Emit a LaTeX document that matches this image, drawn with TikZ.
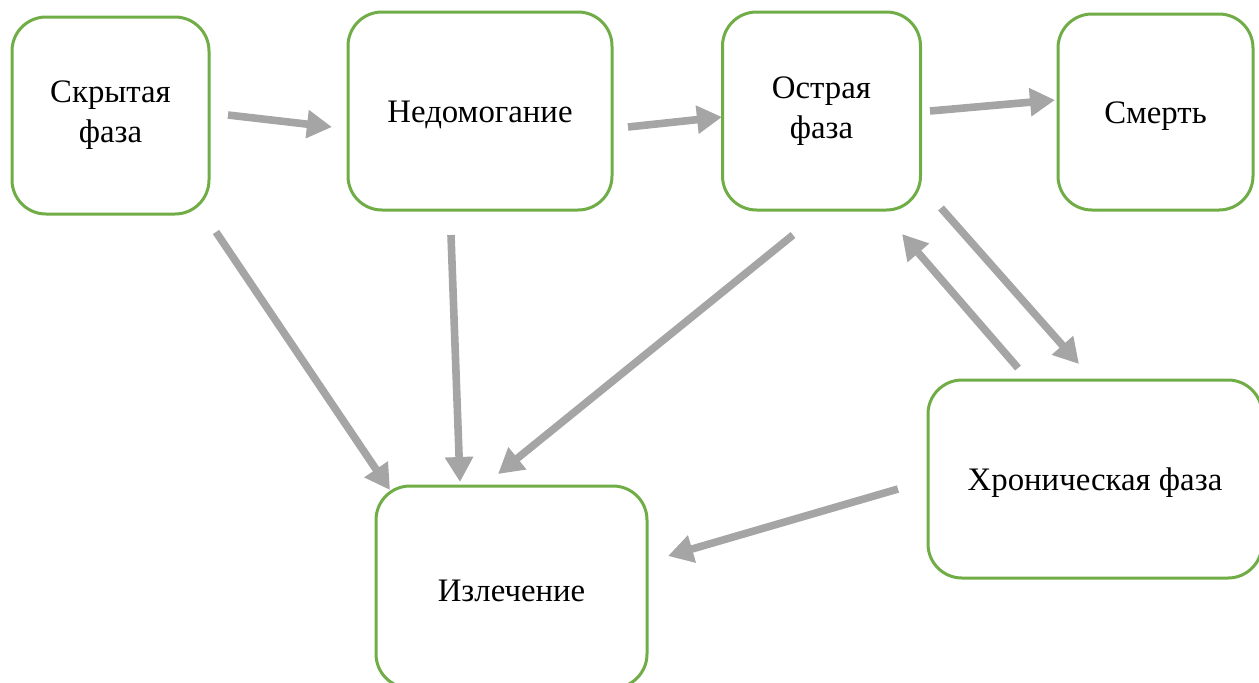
\documentclass[tikz,border=0pt]{standalone}
\usepackage{fontspec}
\setmainfont{Liberation Serif}
\usepackage{tikz}
\usetikzlibrary{arrows.meta}
\definecolor{stagegreen}{HTML}{70AD47}
\definecolor{flowgray}{HTML}{A5A5A5}

\tikzset{
  stage/.style={draw=stagegreen, line width=1.5pt, rounded corners=17pt, fill=white,
    align=center, font=\fontsize{16.4}{20}\selectfont, inner sep=0pt,
    execute at begin node={\rule{0pt}{15pt}}},
  flow/.style={draw=flowgray, line width=3.8pt, -{Triangle[length=12.5pt,width=13.5pt]}}
}

\begin{document}
\begin{tikzpicture}[x=0.5pt, y=-0.5pt]
                \useasboundingbox (0,0) rectangle (1259,682);

                % Stages, top row
                \node[stage, minimum width=98.5pt, minimum height=98.5pt] (latent) at (110.5,115.5) {Скрытая\\фаза};
                \node[stage, minimum width=132pt, minimum height=99pt] (malaise) at (480,111) {Недомогание};
                \node[stage, minimum width=99pt, minimum height=99pt] (acute) at (821.5,111) {Острая\\фаза};
                \node[stage, minimum width=97.5pt, minimum height=98pt] (death) at (1155.5,112) {Смерть};

                % Stages, bottom
                \node[stage, minimum width=167pt, minimum height=99pt] (chronic) at (1095,479) {Хроническая фаза};
                \node[stage, minimum width=135.5pt, minimum height=101pt] (cure) at (511.5,587) {Излечение};

                % Arrow ends
                \coordinate (latent-out) at (228,115);
                \coordinate (malaise-in) at (332,127);
                \coordinate (malaise-out) at (628,127);
                \coordinate (acute-in) at (722,117);
                \coordinate (acute-out) at (930,111);
                \coordinate (death-in) at (1055,100);
                \coordinate (latent-down) at (216,232);
                \coordinate (cure-in1) at (390,490);
                \coordinate (malaise-down) at (451,235);
                \coordinate (cure-in2) at (460,482);
                \coordinate (acute-down) at (793,235);
                \coordinate (cure-in3) at (498,474);
                \coordinate (chronic-up) at (1018,368);
                \coordinate (acute-back) at (902,234);
                \coordinate (acute-side) at (941,208);
                \coordinate (chronic-in) at (1079,364);
                \coordinate (chronic-out) at (898,489);
                \coordinate (cure-in4) at (668,556);

                % Transitions
                \draw[flow] (latent-out) -- (malaise-in);
                \draw[flow] (malaise-out) -- (acute-in);
                \draw[flow] (acute-out) -- (death-in);
                \draw[flow] (latent-down) -- (cure-in1);
                \draw[flow] (malaise-down) -- (cure-in2);
                \draw[flow] (acute-down) -- (cure-in3);
                \draw[flow] (chronic-up) -- (acute-back);
                \draw[flow] (acute-side) -- (chronic-in);
                \draw[flow] (chronic-out) -- (cure-in4);
            \end{tikzpicture}
\end{document}
